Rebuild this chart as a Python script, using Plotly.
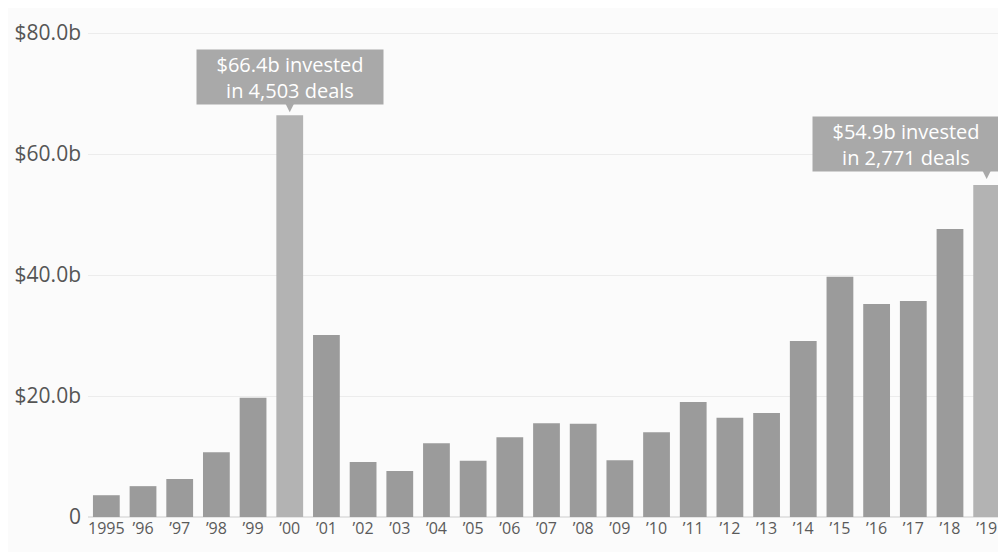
import plotly.graph_objects as go

years = ["1995", "’96", "’97", "’98", "’99", "’00", "’01", "’02", "’03", "’04",
         "’05", "’06", "’07", "’08", "’09", "’10", "’11", "’12", "’13", "’14",
         "’15", "’16", "’17", "’18", "’19"]
invested_b = [3.6, 5.1, 6.3, 10.7, 19.7, 66.4, 30.1, 9.1, 7.6, 12.2,
              9.3, 13.2, 15.5, 15.4, 9.4, 14.0, 19.0, 16.4, 17.2, 29.1,
              39.7, 35.2, 35.7, 47.6, 54.9]
highlight_years = ["’00", "’19"]
highlight_text = ["$66.4b invested<br>in 4,503 deals", "$54.9b invested<br>in 2,771 deals"]

y_tickvals = [0, 20, 40, 60, 80]
y_ticktext = ["0", "$20.0b", "$40.0b", "$60.0b", "$80.0b"]

base_color = "#9b9b9b"
hi_color = "#b3b3b3"
colors = [hi_color if y in highlight_years else base_color for y in years]

fig = go.Figure()
fig.add_trace(go.Bar(x=years, y=invested_b, marker=dict(color=colors, line=dict(width=0)),
                     hoverinfo="x+y"))

ann_color = "#a9a9a9"
for i, (yr, txt) in enumerate(zip(highlight_years, highlight_text)):
    val = invested_b[years.index(yr)]
    if i == 0:
        xanchor, xshift, yshift = "center", 0, 10
    else:
        xanchor, xshift, yshift = "right", 13, 13
    fig.add_annotation(x=yr, y=val, text=txt, showarrow=False, xanchor=xanchor, yanchor="bottom",
                       xshift=xshift, yshift=yshift, bgcolor=ann_color, borderpad=1,
                       width=184, height=52,
                       font=dict(color="white", size=20, family="Open Sans"), align="center")
    # small pointer below the box
    fig.add_annotation(x=yr, y=val, text="", showarrow=True, ax=0, ay=-yshift,
                       arrowhead=2, arrowsize=1.2, arrowwidth=2, arrowcolor=ann_color,
                       standoff=yshift - 7)

fig.update_layout(
    width=998, height=544,
    margin=dict(l=80, r=1, t=13, b=35),
    paper_bgcolor="#fbfbfb", plot_bgcolor="#fbfbfb",
    bargap=0.27, showlegend=False,
    font=dict(family="Open Sans", color="#555555", size=15),
)
fig.update_xaxes(tickfont=dict(size=16, color="#5a5a5a"), showgrid=False, ticks="", showline=False)
fig.update_yaxes(range=[0, 82], tickvals=y_tickvals, ticktext=y_ticktext, showgrid=True,
                 gridcolor="#ececec", gridwidth=1, zeroline=True, zerolinecolor="#e4e4e4",
                 tickfont=dict(size=21, color="#555555"), ticklabelstandoff=6)

fig.write_html("out.html")
